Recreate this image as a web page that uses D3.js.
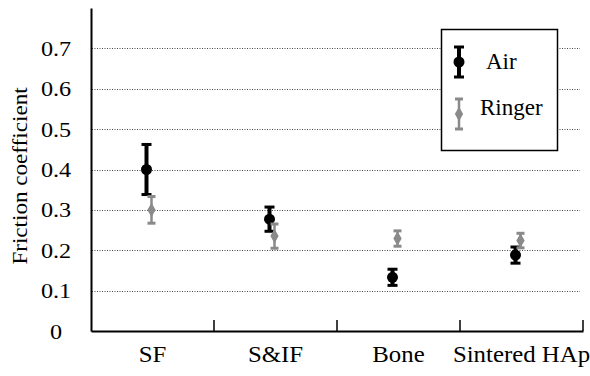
<!DOCTYPE html>
<html>
<head>
<meta charset="utf-8">
<script src="https://cdn.jsdelivr.net/npm/d3@7"></script>
<style>
    body { margin: 0; background: #fff; }
    svg { display: block; }
    .grid line { stroke: #444; stroke-width: 1; stroke-dasharray: 1,1.5; }
</style>
</head>
<body>
<svg id="mainChart" width="590" height="376" font-family="Liberation Serif"></svg>
<script>

//////////
// DATA //
//////////

var categories = ['SF', 'S&IF', 'Bone', 'Sintered HAp'];
var airMean = [0.400, 0.277, 0.133, 0.188];
var airErr = [0.062, 0.030, 0.020, 0.020];
var ringerMean = [0.300, 0.235, 0.229, 0.224];
var ringerErr = [0.033, 0.030, 0.019, 0.018];
var yTicks = [0, 0.1, 0.2, 0.3, 0.4, 0.5, 0.6, 0.7];

var serif = 'Liberation Serif';

//////////////////
// CREATING SVG //
//////////////////

var mainChart = d3.select('#mainChart');

////////////
// SCALES //
////////////

var xScale = d3.scaleBand()
    .domain(categories)
    .range([91, 583]);

var yScale = d3.scaleLinear()
    .domain([0, 0.8])
    .range([331, 8]);

//////////
// GRID //
//////////

mainChart.append('g')
    .attr('class', 'grid')
    .selectAll('line')
    .data(yTicks.filter(function(d) { return d > 0; }))
    .enter()
    .append('line')
    .attr('x1', 92)
    .attr('x2', 580)
    .attr('y1', function(d) { return Math.round(yScale(d)) + 0.5; })
    .attr('y2', function(d) { return Math.round(yScale(d)) + 0.5; });

//////////
// AXIS //
//////////

var xAxis = d3.axisBottom(xScale)
    .tickSize(0)
    .tickPadding(15);

var xG = mainChart.append('g')
    .attr('transform', 'translate(0,331)')
    .call(xAxis)
    .attr('font-family', serif)
    .attr('font-size', 23);

xG.select('.domain')
    .attr('stroke-width', 2);

xG.selectAll('.tick text')
    .attr('fill', '#000')
    .attr('font-family', serif)
    .attr('transform', 'scale(1.08,1)');

// ticks at the category boundaries
mainChart.append('g')
    .selectAll('line')
    .data(categories)
    .enter()
    .append('line')
    .attr('x1', function(d) { return xScale(d) + xScale.bandwidth(); })
    .attr('x2', function(d) { return xScale(d) + xScale.bandwidth(); })
    .attr('y1', 331)
    .attr('y2', 320)
    .attr('stroke', '#000')
    .attr('stroke-width', 1.5);

var yAxis = d3.axisLeft(yScale)
    .tickValues(yTicks)
    .tickSize(0)
    .tickPadding(0)
    .tickFormat(function(d) { return d === 0 ? '0' : d3.format('.1f')(d); });

var yG = mainChart.append('g')
    .attr('transform', 'translate(91,0)')
    .call(yAxis)
    .attr('font-family', serif)
    .attr('font-size', 22);

yG.select('.domain')
    .attr('stroke-width', 2);

yG.selectAll('.tick text')
    .attr('x', -35)
    .attr('fill', '#000')
    .attr('font-family', serif)
    .attr('text-anchor', 'middle')
    .attr('transform', 'translate(-35,0) scale(1.1,1) translate(35,0)');

mainChart.append('text')
    .attr('transform', 'translate(27,176) rotate(-90) scale(1.05,1)')
    .attr('text-anchor', 'middle')
    .attr('font-family', serif)
    .attr('font-size', 22)
    .text('Friction coefficient');

////////////////
// ERROR BARS //
////////////////

function drawSeries(means, errs, offset, color, lineW, capW) {
    var g = mainChart.append('g');
    var cx = function(d, i) { return xScale(categories[i]) + xScale.bandwidth() / 2 + offset; };

    g.selectAll('.stem')
        .data(means)
        .enter()
        .append('line')
        .attr('x1', cx)
        .attr('x2', cx)
        .attr('y1', function(d, i) { return yScale(d + errs[i]); })
        .attr('y2', function(d, i) { return yScale(d - errs[i]); })
        .attr('stroke', color)
        .attr('stroke-width', lineW);

    [1, -1].forEach(function(sign) {
        g.selectAll('.cap' + sign)
            .data(means)
            .enter()
            .append('line')
            .attr('x1', function(d, i) { return cx(d, i) - capW / 2; })
            .attr('x2', function(d, i) { return cx(d, i) + capW / 2; })
            .attr('y1', function(d, i) { return yScale(d + sign * errs[i]); })
            .attr('y2', function(d, i) { return yScale(d + sign * errs[i]); })
            .attr('stroke', color)
            .attr('stroke-width', 3);
    });

    return g;
}

var airG = drawSeries(airMean, airErr, -6, '#000', 4, 10);
airG.selectAll('circle')
    .data(airMean)
    .enter()
    .append('circle')
    .attr('cx', function(d, i) { return xScale(categories[i]) + xScale.bandwidth() / 2 - 6; })
    .attr('cy', function(d) { return yScale(d); })
    .attr('r', 5.5)
    .attr('fill', '#000');

var ringerG = drawSeries(ringerMean, ringerErr, -1, '#8a8a8a', 2.5, 8);
ringerG.selectAll('path.mark')
    .data(ringerMean)
    .enter()
    .append('path')
    .attr('class', 'mark')
    .attr('d', d3.symbol().type(d3.symbolDiamond).size(60))
    .attr('transform', function(d, i) {
        return 'translate(' + (xScale(categories[i]) + xScale.bandwidth() / 2 - 1) + ',' + yScale(d) + ')';
    })
    .attr('fill', '#8a8a8a');

////////////
// LEGEND //
////////////

var legend = mainChart.append('g');

legend.append('rect')
    .attr('x', 441.5)
    .attr('y', 29.5)
    .attr('width', 116)
    .attr('height', 121)
    .attr('fill', '#fff')
    .attr('stroke', '#000')
    .attr('stroke-width', 1.5);

function legendMark(y, color, lineW, capW, isAir) {
    legend.append('line')
        .attr('x1', 459).attr('x2', 459)
        .attr('y1', y - 15).attr('y2', y + 15)
        .attr('stroke', color).attr('stroke-width', lineW);
    [-15, 15].forEach(function(o) {
        legend.append('line')
            .attr('x1', 459 - capW / 2).attr('x2', 459 + capW / 2)
            .attr('y1', y + o).attr('y2', y + o)
            .attr('stroke', color).attr('stroke-width', 3);
    });
    if (isAir) {
        legend.append('circle').attr('cx', 459).attr('cy', y).attr('r', 5.5).attr('fill', color);
    } else {
        legend.append('path')
            .attr('d', d3.symbol().type(d3.symbolDiamond).size(60))
            .attr('transform', 'translate(459,' + y + ')')
            .attr('fill', color);
    }
}

legendMark(62, '#000', 4, 10, true);
legendMark(114, '#8a8a8a', 2.5, 8, false);

legend.append('text')
    .attr('x', 486)
    .attr('y', 69)
    .attr('font-family', serif)
    .attr('font-size', 23)
    .text('Air');

legend.append('text')
    .attr('x', 480)
    .attr('y', 115)
    .attr('font-family', serif)
    .attr('font-size', 23)
    .text('Ringer');

</script>
</body>
</html>
